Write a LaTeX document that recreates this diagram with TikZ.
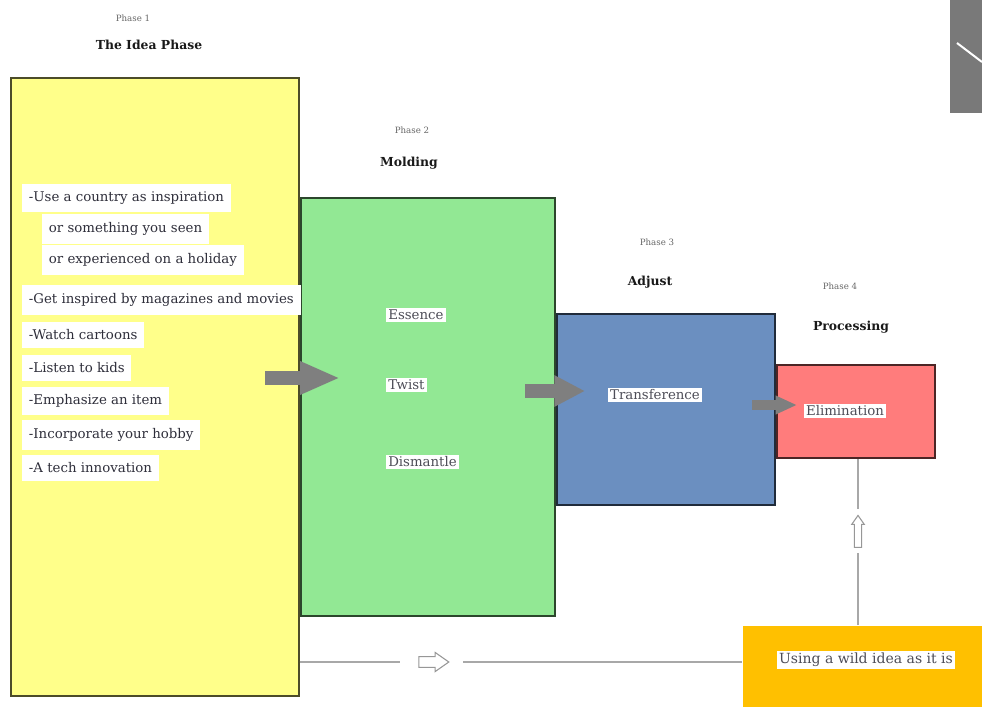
\documentclass[tikz,border=0pt]{standalone}
\usepackage{fontspec}
\setmainfont{DejaVu Serif}
\usetikzlibrary{shapes.arrows, arrows.meta, positioning}
\definecolor{ideayel}{HTML}{FFFF8A}
\definecolor{moldgrn}{HTML}{92E894}
\definecolor{adjblue}{HTML}{6B8FC0}
\definecolor{procred}{HTML}{FF7C7C}
\definecolor{wildorg}{HTML}{FFC000}
\definecolor{pushgray}{HTML}{7F7F7F}
\definecolor{linkgray}{HTML}{A8A8A8}
\definecolor{inktext}{HTML}{2E2E3A}
\tikzset{
  phasebox/.style={rectangle, fill=#1, draw=#1!30!black, line width=1.2pt,
                   anchor=north west, inner sep=0pt},
  phasenum/.style={font=\fontsize{6.5}{8}\selectfont, text=black!60},
  phasename/.style={font=\fontsize{9.3}{11}\selectfont\bfseries, text=black!90},
  item/.style={fill=white, text=inktext, font=\fontsize{10}{12}\selectfont,
               anchor=west, inner xsep=5pt, inner ysep=6pt},
  tag/.style={fill=white, text=inktext!85, font=\fontsize{10}{12}\selectfont, inner sep=1.5pt},
  push/.style n args={3}{line width=#1, draw=pushgray, -{Triangle[length=#2, width=#3]}},
  hollow/.style={single arrow, draw=linkgray!90!black, fill=white, line width=0.8pt,
                 single arrow tip angle=70},
  link/.style={draw=linkgray, line width=0.9pt},
}

\begin{document}
\begin{tikzpicture}[x=0.75pt, y=-0.75pt]
  \useasboundingbox (0,0) rectangle (982,707);
  \fill[pushgray!95!black] (950,0) rectangle (982,113);
  \draw[white, line width=1.5pt] (957,43) -- (982,62);

  \node[phasebox=ideayel, minimum width=216pt, minimum height=463.5pt] (ideabox) at (10,77) {};
  \node[phasebox=moldgrn, minimum width=190.5pt, minimum height=313.5pt] (moldbox) at (300,197) {};
  \node[phasebox=adjblue, minimum width=163.5pt, minimum height=143.25pt] (adjbox) at (556,313) {};
  \node[phasebox=procred, minimum width=118.5pt, minimum height=69.75pt] (procbox) at (776,364) {};
  \node[phasebox=wildorg, draw=none, minimum width=180pt, minimum height=61.5pt] (wildbox) at (742,625) {};

  \foreach \n/\xa/\ya/\xb/\yb/\tit in {1/133/18/149/45/The Idea Phase, 2/412/130/409/163/Molding,
      3/657/242/650/282/Adjust, 4/840/286/851/327/Processing}{
    \node[phasenum] (num\n) at (\xa,\ya) {Phase \n};
    \node[phasename] (name\n) at (\xb,\yb) {\tit};
  }

  \foreach \n/\x/\y/\txt in {1/22/198/{-Use a country as inspiration}, 2/42/229/{or something you seen},
      3/42/260/{or experienced on a holiday}, 4/22/300/{-Get inspired by magazines and movies},
      5/22/335/{-Watch cartoons}, 6/22/368/{-Listen to kids}, 7/22/401/{-Emphasize an item},
      8/22/435/{-Incorporate your hobby}, 9/22/468/{-A tech innovation}}{
    \node[item] (idea\n) at (\x,\y) {\txt};
  }

  \foreach \n/\y/\txt in {essence/315/Essence, twist/385/Twist, dismantle/462/Dismantle}{
    \node[tag, anchor=west] (\n) at (386,\y) {\txt};
  }
  \node[tag] (transference) at (655,395) {Transference};
  \node[tag] (elimination) at (845,411) {Elimination};
  \node[tag, font=\fontsize{10.5}{12}\selectfont] (usewild) at (866,660) {Using a wild idea as it is};

  \coordinate (p1s) at (265,378); \coordinate (p1e) at (340,378);
  \coordinate (p2s) at (525,391); \coordinate (p2e) at (585,391);
  \coordinate (p3s) at (752,405); \coordinate (p3e) at (797,405);
  \draw[push={11pt}{30pt}{23pt}] (p1s) -- (p1e);
  \draw[push={10pt}{23pt}{22pt}] (p2s) -- (p2e);
  \draw[push={7pt}{16pt}{13pt}] (p3s) -- (p3e);

  \node[hollow, inner sep=3.6pt, single arrow head extend=3.2pt, minimum height=22.5pt] (rarr) at (430,662) {};
  \node[hollow, shape border rotate=90, inner sep=2.3pt, single arrow head extend=2pt,
        minimum height=24pt] (uarr) at (858,534) {};
  \draw[link] (ideabox.east |- rarr) -- ([xshift=-14pt]rarr.west);
  \draw[link] ([xshift=10pt]rarr.east) -- (wildbox.west |- rarr);
  \draw[link] (uarr |- wildbox.north) -- ([yshift=-4pt]uarr.south);
  \draw[link] ([yshift=4pt]uarr.north) -- (uarr |- procbox.south);
\end{tikzpicture}
\end{document}
